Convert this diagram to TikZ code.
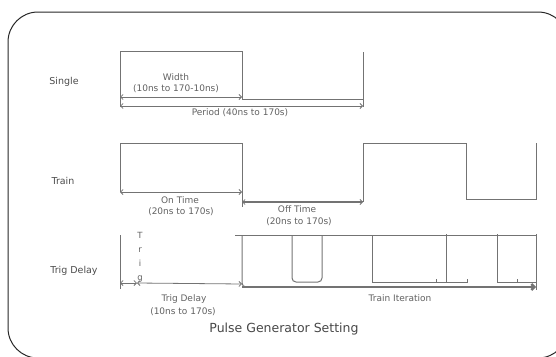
\documentclass[tikz,border=0pt]{standalone}
\usepackage{fontspec}
\setmainfont{DejaVu Sans}
\usetikzlibrary{arrows.meta,positioning}

\tikzset{
  wave/.style={draw=black!55, line width=1pt},
  dimline/.style={black!55, line width=0.8pt, {Straight Barb[length=2.5pt]}-{Straight Barb[length=2.5pt]}},
  rowlab/.style={font=\fontsize{9.5}{11}\selectfont, text=black!70},
  dimlab/.style={font=\fontsize{9}{10.5}\selectfont, text=black!62, align=center, inner sep=1pt},
}

\begin{document}
\begin{tikzpicture}[x=1pt,y=-1pt]
\useasboundingbox (0,0) rectangle (556,356);
\begin{scope}
\clip (0,0) rectangle (556,356);
\draw[black!85, line width=1pt, rounded corners=30pt] (8,12) rectangle (568,358);
\end{scope}

% single pulse
\node[rowlab] (single) at (64,82) {Single};
\draw[wave] (120,107) -- (120,51) -- (242,51) -- (242,99) -- (363,99);
\draw[wave] (363,52) -- (363,107);
\coordinate (w0) at (120,97);
\coordinate (w1) at (242,97);
\draw[dimline] (w0) -- (w1);
\node[dimlab] (width) at (176,77) {Width};
\node[dimlab] (widthrng) at (176,89) {(10ns to 170-10ns)};
\coordinate (p0) at (120,106);
\coordinate (p1) at (363,106);
\draw[dimline] (p0) -- (p1);
\node[dimlab] (period) at (240,113) {Period (40ns to 170s)};

% train
\node[rowlab] (train) at (63,181) {Train};
\draw[wave] (120,192) -- (120,143) -- (242,143) -- (242,207);
\draw[wave] (242,201) -- (363,201) -- (363,143) -- (466,143) -- (466,199) -- (536,199) -- (536,143);
\coordinate (on0) at (120,192);
\coordinate (on1) at (242,192);
\draw[dimline] (on0) -- (on1);
\node[dimlab] (ontime) at (180,200) {On Time};
\node[dimlab] (onrng) at (181,212) {(20ns to 170s)};
\coordinate (off0) at (242,202);
\coordinate (off1) at (363,202);
\draw[dimline] (off0) -- (off1);
\node[dimlab] (offtime) at (297,209) {Off Time};
\node[dimlab] (offrng) at (299,222) {(20ns to 170s)};

% trig delay
\node[rowlab] (trig) at (74,271) {Trig Delay};
\draw[wave] (120,235) -- (120,289);
\node[dimlab, font=\fontsize{8.5}{14}\selectfont] (trigv) at (140,257) {T\\r\\i\\g};
\coordinate (t0) at (120,283);
\coordinate (t1) at (137,283);
\coordinate (t2) at (242,284);
\draw[dimline] (t0) -- (t1);
\draw[dimline] (t1) -- (t2);
\node[dimlab] (delay) at (184,299) {Trig Delay};
\node[dimlab] (delayrng) at (183,312) {(10ns to 170s)};

\draw[wave] (235,235) -- (536,235);
\draw[wave, rounded corners=4pt] (242,235) -- (242,287) -- (262,287);
\draw[wave, rounded corners=4pt] (292,235) -- (292,282) -- (322,282) -- (322,235);
\draw[wave] (372,235) -- (372,282) -- (467,282) -- (467,279);
\draw[wave] (436,282) -- (436,279);
\draw[wave] (446,234) -- (446,282);
\draw[wave] (497,234) -- (497,282) -- (536,282);
\draw[wave] (517,282) -- (517,279);
\draw[wave] (536,234) -- (536,290);
\coordinate (it0) at (242,287);
\coordinate (it1) at (536,287);
\draw[black!55, line width=2.4pt, -{Straight Barb[length=3pt]}] (it0) -- (it1);
\node[dimlab] (iter) at (400,298) {Train Iteration};

\node[font=\fontsize{12.5}{14}\selectfont, text=black!72] (title) at (284,329) {Pulse Generator Setting};
\end{tikzpicture}
\end{document}
